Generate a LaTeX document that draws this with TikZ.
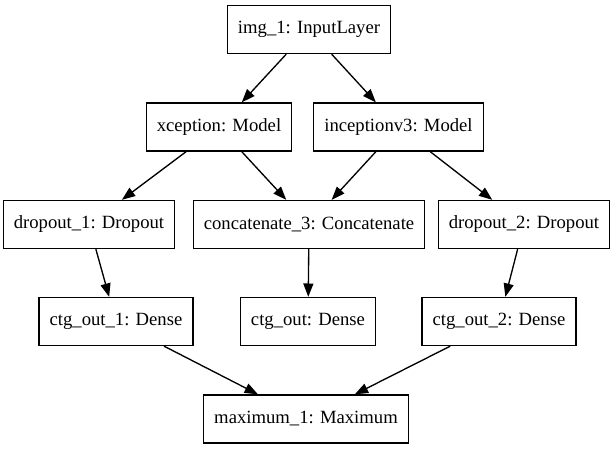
\documentclass[tikz,border=0pt]{standalone}
\usepackage{fontspec}
\setmainfont{Liberation Serif}
\usetikzlibrary{arrows.meta}

\begin{document}
\begin{tikzpicture}
    [
    x = 0.75pt, y = -0.75pt,
    every node/.style = {font=\fontsize{14}{16}\selectfont},
    layer/.style      = {draw, line width=1pt, rectangle, minimum height=36pt,
                         inner xsep=7.92pt, inner ysep=0pt},
    link/.style       = {line width=1pt, -{Triangle[length=10pt,width=7.5pt]}}
    ]
    \useasboundingbox (0,0) rectangle (615,449);
    % input and the two backbones
    \node [layer] (img)   at (309,29.5)   {img\_1: InputLayer};
    \node [layer] (xcp)   at (219,127)    {xception: Model};
    \node [layer] (incp)  at (398.5,127)  {inceptionv3: Model};
    % middle row
    \node [layer] (drop1) at (89,224.5)   {dropout\_1: Dropout};
    \node [layer] (cat)   at (309,224.5)  {concatenate\_3: Concatenate};
    \node [layer] (drop2) at (524,224.5)  {dropout\_2: Dropout};
    % dense heads
    \node [layer] (out1)  at (116,321.5)  {ctg\_out\_1: Dense};
    \node [layer] (out)   at (308,321.5)  {ctg\_out: Dense};
    \node [layer] (out2)  at (499,321.5)  {ctg\_out\_2: Dense};
    \node [layer] (maxi)  at (306,419)    {maximum\_1: Maximum};

    \draw [link] (img)   -- (xcp);
    \draw [link] (img)   -- (incp);
    \draw [link] (xcp)   -- (drop1);
    \draw [link] (xcp)   -- (cat);
    \draw [link] (incp)  -- (cat);
    \draw [link] (incp)  -- (drop2);
    \draw [link] (drop1) -- (out1);
    \draw [link] (cat)   -- (out);
    \draw [link] (drop2) -- (out2);
    \draw [link] (out1)  -- (maxi);
    \draw [link] (out2)  -- (maxi);
\end{tikzpicture}
\end{document}
